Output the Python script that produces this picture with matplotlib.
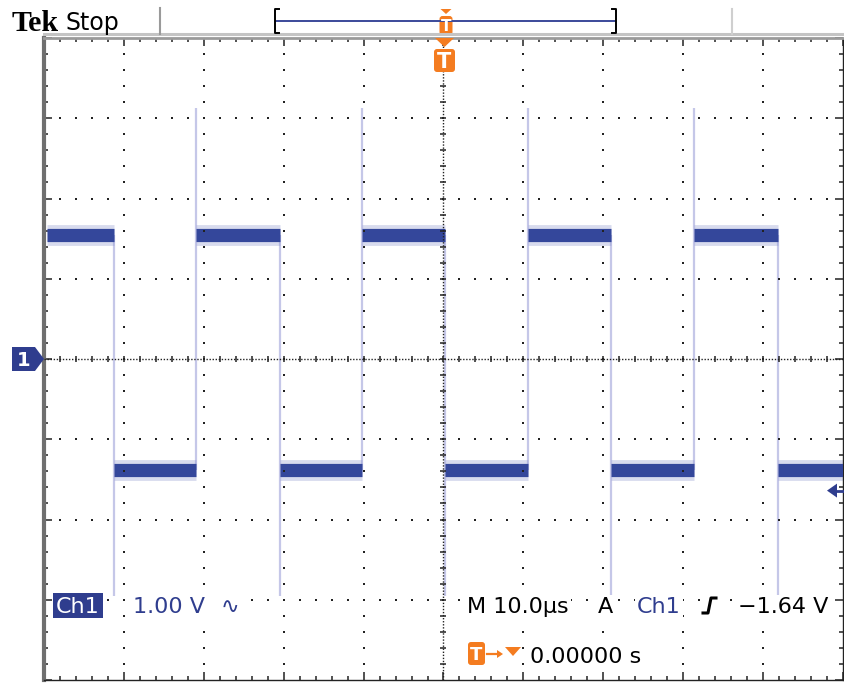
import numpy as np
import matplotlib
matplotlib.use('Agg')
import matplotlib.pyplot as plt
from matplotlib.patches import Polygon, Rectangle, FancyBboxPatch

# Scope settings / readout
ch_scale = '1.00 V'
time_scale = 'M 10.0\u00b5s'
trig_text = '\u22121.64 V'
trig_pos = '0.00000 s'

# Waveform (time in us, level in V)
edge_t = [-41.24, -30.98, -20.46, -10.20, 0.19, 10.58, 20.96, 31.35, 41.87]
t_start, t_end = -49.6, 50.0
high_v = 1.55
low_v = -1.38
spike_hi = 3.13
spike_lo = -2.95
trig_level = -1.64

W, H = 845, 683
fig = plt.figure(figsize=(W / 100, H / 100), dpi=100)
fig.patch.set_facecolor('white')

ax = fig.add_axes([44 / W, 3 / H, 799 / W, 642 / H])
ax.set_xlim(-50, 50)
ax.set_ylim(-4, 4)
ax.set_facecolor('white')

BLUE = '#2f3d8e'
ORANGE = '#f47c20'
DOT = '#222222'

########################################
# trace: noisy band drawn as fuzz + core, spikes at each edge
bounds = [t_start] + edge_t + [t_end]
for i in range(len(bounds) - 1):
    lvl = high_v if i % 2 == 0 else low_v
    ax.plot([bounds[i], bounds[i + 1]], [lvl, lvl], color='#7f89c8', lw=15,
            alpha=0.3, solid_capstyle='butt', zorder=2)
    ax.plot([bounds[i], bounds[i + 1]], [lvl, lvl], color='#34479b', lw=9.5,
            solid_capstyle='butt', zorder=3)

for i, t in enumerate(edge_t):
    if i % 2 == 0:
        ax.vlines(t, spike_lo, high_v, color='#c5c7e8', lw=1.6, zorder=1)
    else:
        ax.vlines(t, low_v, spike_hi, color='#c5c7e8', lw=1.6, zorder=1)

########################################
# graticule
for xv in [-40, -30, -20, -10, 10, 20, 30, 40]:
    ys = np.arange(-3.8, 3.81, 0.2)
    ax.plot(np.full_like(ys, xv), ys, ls='none', marker='s', ms=1.5,
            mew=0, color=DOT, zorder=4)
for yv in [-3, -2, -1, 1, 2, 3]:
    xs = np.arange(-48, 48.1, 2)
    ax.plot(xs, np.full_like(xs, yv), ls='none', marker='s', ms=1.5,
            mew=0, color=DOT, zorder=4)

ax.axhline(0, color=DOT, lw=1, ls=(0, (1, 1.2)), zorder=4)
ax.axvline(0, color=DOT, lw=1, ls=(0, (1, 1.2)), zorder=4)
cx = np.arange(-48, 48.1, 2)
ax.plot(cx, np.zeros_like(cx), ls='none', marker='|', ms=5, mew=1.1,
        color=DOT, zorder=4)
cy = np.arange(-3.8, 3.81, 0.2)
ax.plot(np.zeros_like(cy), cy, ls='none', marker='_', ms=5, mew=1.1,
        color=DOT, zorder=4)

ax.set_xticks(np.arange(-50, 51, 10))
ax.set_xticks(np.arange(-50, 51, 2), minor=True)
ax.set_yticks(np.arange(-4, 4.1, 1))
ax.set_yticks(np.arange(-4, 4.1, 0.2), minor=True)
ax.tick_params(which='both', direction='in', top=True, right=True,
               labelbottom=False, labelleft=False, color=DOT, width=1.1)
ax.tick_params(which='major', length=6)
ax.tick_params(which='minor', length=3)
ax.spines['left'].set_color('#6f6f6f')
ax.spines['left'].set_linewidth(3)
ax.spines['top'].set_color('#9a9a9a')
ax.spines['top'].set_linewidth(2)
for s in ['bottom', 'right']:
    ax.spines[s].set_color(DOT)
    ax.spines[s].set_linestyle((0, (1, 1)))
    ax.spines[s].set_linewidth(1)


def ypx(v):
    return H - ax.transData.transform((0, v))[1]


def xpx(t):
    return ax.transData.transform((t, 0))[0]


########################################
# overlay in screen pixels for the scope chrome
hud = fig.add_axes([0, 0, 1, 1], zorder=5)
hud.set_xlim(0, W)
hud.set_ylim(H, 0)
hud.axis('off')
hud.patch.set_alpha(0)

# header
hud.text(12, 31, 'Tek', family='Liberation Serif', weight='bold', fontsize=21.5,
         va='baseline', ha='left')
hud.text(66, 30, 'Stop', family='DejaVu Sans', fontsize=17, va='baseline', ha='left')
hud.plot([44, W], [34, 34], color='#c4c4c4', lw=2.2)
hud.plot([160, 160], [8, 34], color='#9a9a9a', lw=1.5)
hud.plot([732, 732], [9, 34], color='#cfcfcf', lw=1.5)

# record bar
hud.plot([276, 615], [21, 21], color='#3b4a9a', lw=1.4)
hud.plot([279, 275, 275, 279], [9, 9, 33, 33], color='black', lw=1.4)
hud.plot([612, 616, 616, 612], [9, 9, 33, 33], color='black', lw=1.4)


def t_marker(xc, ytop, tri_h, w, box_h, fs):
    hud.add_patch(Polygon([[xc - w / 2 + 1, ytop], [xc + w / 2 - 1, ytop],
                           [xc, ytop + tri_h]], closed=True, color=ORANGE, lw=0))
    by = ytop + tri_h + 2
    hud.add_patch(FancyBboxPatch((xc - w / 2, by), w, box_h,
                                 boxstyle='round,pad=0,rounding_size=3',
                                 color=ORANGE, lw=0))
    hud.text(xc, by + box_h / 2 + 1, 'T', color='white', weight='bold',
             fontsize=fs, ha='center', va='center')


t_marker(446, 9, 5, 13, 19, 11)
t_marker(xpx(0) + 1, 38, 9, 21, 23, 15)

# channel 1 ground marker
gy = ypx(0)
hud.add_patch(Polygon([[12, gy - 12], [35, gy - 12], [44, gy], [35, gy + 12],
                       [12, gy + 12]], closed=True, color=BLUE, lw=0))
hud.text(24, gy + 1, '1', color='white', weight='bold', fontsize=14,
         ha='center', va='center')

# trigger level arrow
ty = ypx(trig_level)
hud.add_patch(Polygon([[827, ty], [837, ty - 7], [837, ty + 7]], closed=True,
                      color=BLUE, lw=0))
hud.plot([836, W], [ty, ty], color=BLUE, lw=2)

# readout, first row
fs = 16
white_box = dict(facecolor='white', edgecolor='none', pad=1.5)
hud.add_patch(Rectangle((53, 593), 50, 25, color=BLUE, lw=0))
hud.text(78, 613, 'Ch1', color='white', fontsize=fs, ha='center', va='baseline')
hud.text(133, 613, ch_scale, color=BLUE, fontsize=fs, va='baseline', bbox=white_box)
hud.text(221, 613, '\u223f', color=BLUE, fontsize=fs, va='baseline', bbox=white_box)
hud.text(467, 613, time_scale, color='black', fontsize=fs, va='baseline', bbox=white_box)
hud.text(598, 613, 'A', color='black', fontsize=fs, va='baseline', bbox=white_box)
hud.text(637, 613, 'Ch1', color=BLUE, fontsize=fs, va='baseline', bbox=white_box)
hud.add_patch(Rectangle((700, 594), 20, 22, color='white', lw=0))
hud.plot([703, 708, 711, 716], [613, 613, 598, 598], color='black', lw=2.2)
hud.text(738, 613, trig_text, color='black', fontsize=fs, va='baseline', bbox=white_box)

# readout, second row
hud.add_patch(FancyBboxPatch((468, 642), 17, 23, boxstyle='round,pad=0,rounding_size=3',
                             color=ORANGE, lw=0))
hud.text(476.5, 654.5, 'T', color='white', weight='bold', fontsize=13,
         ha='center', va='center')
hud.plot([487, 499], [654, 654], color=ORANGE, lw=1.6)
hud.add_patch(Polygon([[497, 650], [503, 654], [497, 658]], closed=True,
                      color=ORANGE, lw=0))
hud.add_patch(Polygon([[505, 647], [521, 647], [513, 656]], closed=True,
                      color=ORANGE, lw=0))
hud.text(530, 663, trig_pos, color='black', fontsize=fs, va='baseline', bbox=white_box)

fig.savefig('out.png', dpi=100)
